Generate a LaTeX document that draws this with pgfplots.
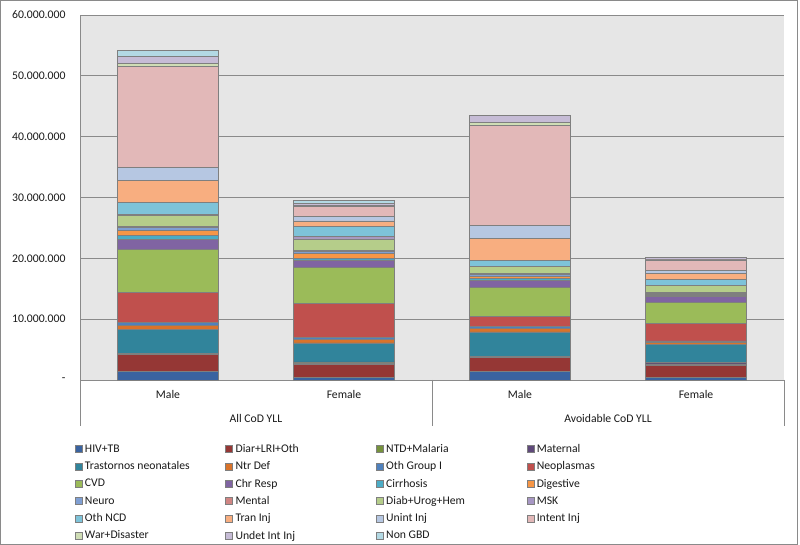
\documentclass[border=0pt]{standalone}
\usepackage{fontspec}
\setmainfont{Carlito}
\usepackage{pgfplots}
\usepackage{pgfplotstable}
\pgfplotsset{compat=1.18}

\definecolor{c01}{HTML}{3A63A0}
\definecolor{c02}{HTML}{953735}
\definecolor{c03}{HTML}{76923C}
\definecolor{c04}{HTML}{5F497A}
\definecolor{c05}{HTML}{31849B}
\definecolor{c06}{HTML}{D9732A}
\definecolor{c07}{HTML}{4F81BD}
\definecolor{c08}{HTML}{C0504D}
\definecolor{c09}{HTML}{9BBB59}
\definecolor{c10}{HTML}{8064A2}
\definecolor{c11}{HTML}{4BACC6}
\definecolor{c12}{HTML}{F79646}
\definecolor{c13}{HTML}{7F9FD3}
\definecolor{c14}{HTML}{D08583}
\definecolor{c15}{HTML}{B5CD8A}
\definecolor{c16}{HTML}{A797C4}
\definecolor{c17}{HTML}{7EC3D9}
\definecolor{c18}{HTML}{F8AE80}
\definecolor{c19}{HTML}{B6C7E2}
\definecolor{c20}{HTML}{E2B8B8}
\definecolor{c21}{HTML}{CFDDB5}
\definecolor{c22}{HTML}{C6BCD6}
\definecolor{c23}{HTML}{B3D9E4}
\definecolor{plotbg}{HTML}{E6E6E6}
\definecolor{linegray}{HTML}{8A8A8A}
\definecolor{bargray}{HTML}{7F7F7F}
\definecolor{txt}{HTML}{1A1A1A}

\pgfplotstableread{
x HIV Diar NTD Mat Trast Ntr OthGI Neo CVD Chr Cirr Dig Neuro Mental Diab MSK OthNCD Tran Unint Intent War Undet NonGBD
0 1450000 2750000 200000 0 3900000 650000 450000 5030000 7070000 1640000 560000 870000 450000 250000 1800000 200000 1920000 3620000 2190000 16560000 490000 1090000 1050000
1 400000 2200000 200000 180000 3120000 540000 330000 5660000 5860000 1260000 270000 770000 350000 200000 1860000 380000 1640000 930000 770000 1640000 100000 300000 550000
2 1370000 2300000 270000 0 3950000 600000 330000 1580000 4770000 1200000 300000 400000 250000 200000 1100000 50000 1050000 3600000 2140000 16400000 550000 1150000 0
3 400000 2040000 200000 240000 2900000 380000 270000 2850000 3450000 990000 150000 250000 150000 100000 1150000 50000 990000 930000 490000 1760000 50000 330000 0
}\datatable

\newcommand{\lentry}[1]{\addlegendentry{\makebox[140.5pt][l]{#1}}}

\begin{document}
\begin{tikzpicture}[x=1pt,y=1pt]
\useasboundingbox (0,0) rectangle (800,545);
\fill[white] (0,0) rectangle (800,545);
\draw[linegray, line width=0.8pt] (0.5,0.5) rectangle (797,544.5);
\begin{axis}[
  at={(80pt,165pt)}, anchor=south west,
  scale only axis, width=704pt, height=365pt,
  ybar stacked, bar width=101pt,
  xmin=-0.5, xmax=3.5, ymin=0, ymax=60000000,
  scaled y ticks=false,
  ytick={0,10000000,20000000,30000000,40000000,50000000,60000000},
  yticklabels={-,10.000.000,20.000.000,30.000.000,40.000.000,50.000.000,60.000.000},
  xtick={0,1,2,3}, xticklabels={Male,Female,Male,Female},
  axis background/.style={fill=plotbg},
  ymajorgrids, grid style={linegray, line width=0.9pt},
  axis x line*=bottom, axis y line*=left,
  axis line style={-, linegray, line width=0.9pt},
  major tick length=0pt,
  tick label style={font=\fontsize{11.7}{14}\selectfont, text=txt},
  yticklabel style={xshift=-11pt},
  xticklabel style={yshift=-7pt},
  clip=false,
  seg/.style={draw=bargray, line width=0.7pt,
     legend image code/.code={\draw[##1, line width=0.5pt] (0pt,-3.5pt) rectangle (7pt,3.5pt); \path (9.5pt,0pt);}},
  legend columns=4,
  legend style={at={(-0.0118,-0.1599)}, anchor=north west, draw=none, fill=none,
     font=\fontsize{11.7}{14}\selectfont, text=txt,
     row sep=0pt, column sep=0pt,
     nodes={inner sep=0pt, minimum height=17.3pt, anchor=west}},
  legend cell align=left,
]
\addplot[seg, fill=c01] table[x=x,y=HIV]{\datatable}; \lentry{HIV+TB}
\addplot[seg, fill=c02] table[x=x,y=Diar]{\datatable}; \lentry{Diar+LRI+Oth}
\addplot[seg, fill=c03] table[x=x,y=NTD]{\datatable}; \lentry{NTD+Malaria}
\addplot[seg, fill=c04] table[x=x,y=Mat]{\datatable}; \lentry{Maternal}
\addplot[seg, fill=c05] table[x=x,y=Trast]{\datatable}; \lentry{Trastornos neonatales}
\addplot[seg, fill=c06] table[x=x,y=Ntr]{\datatable}; \lentry{Ntr Def}
\addplot[seg, fill=c07] table[x=x,y=OthGI]{\datatable}; \lentry{Oth Group I}
\addplot[seg, fill=c08] table[x=x,y=Neo]{\datatable}; \lentry{Neoplasmas}
\addplot[seg, fill=c09] table[x=x,y=CVD]{\datatable}; \lentry{CVD}
\addplot[seg, fill=c10] table[x=x,y=Chr]{\datatable}; \lentry{Chr Resp}
\addplot[seg, fill=c11] table[x=x,y=Cirr]{\datatable}; \lentry{Cirrhosis}
\addplot[seg, fill=c12] table[x=x,y=Dig]{\datatable}; \lentry{Digestive}
\addplot[seg, fill=c13] table[x=x,y=Neuro]{\datatable}; \lentry{Neuro}
\addplot[seg, fill=c14] table[x=x,y=Mental]{\datatable}; \lentry{Mental}
\addplot[seg, fill=c15] table[x=x,y=Diab]{\datatable}; \lentry{Diab+Urog+Hem}
\addplot[seg, fill=c16] table[x=x,y=MSK]{\datatable}; \lentry{MSK}
\addplot[seg, fill=c17] table[x=x,y=OthNCD]{\datatable}; \lentry{Oth NCD}
\addplot[seg, fill=c18] table[x=x,y=Tran]{\datatable}; \lentry{Tran Inj}
\addplot[seg, fill=c19] table[x=x,y=Unint]{\datatable}; \lentry{Unint Inj}
\addplot[seg, fill=c20] table[x=x,y=Intent]{\datatable}; \lentry{Intent Inj}
\addplot[seg, fill=c21] table[x=x,y=War]{\datatable}; \lentry{War+Disaster}
\addplot[seg, fill=c22] table[x=x,y=Undet]{\datatable}; \lentry{Undet Int Inj}
\addplot[seg, fill=c23] table[x=x,y=NonGBD]{\datatable}; \lentry{Non GBD}
\end{axis}
\draw[linegray, line width=0.9pt] (80,165) -- (80,119);
\draw[linegray, line width=0.9pt] (432,165) -- (432,119);
\draw[linegray, line width=0.9pt] (784,165) -- (784,119);
\node[font=\fontsize{11.7}{14}\selectfont, text=txt] at (256,127) {All CoD YLL};
\node[font=\fontsize{11.7}{14}\selectfont, text=txt] at (608,127) {Avoidable CoD YLL};
\end{tikzpicture}
\end{document}
